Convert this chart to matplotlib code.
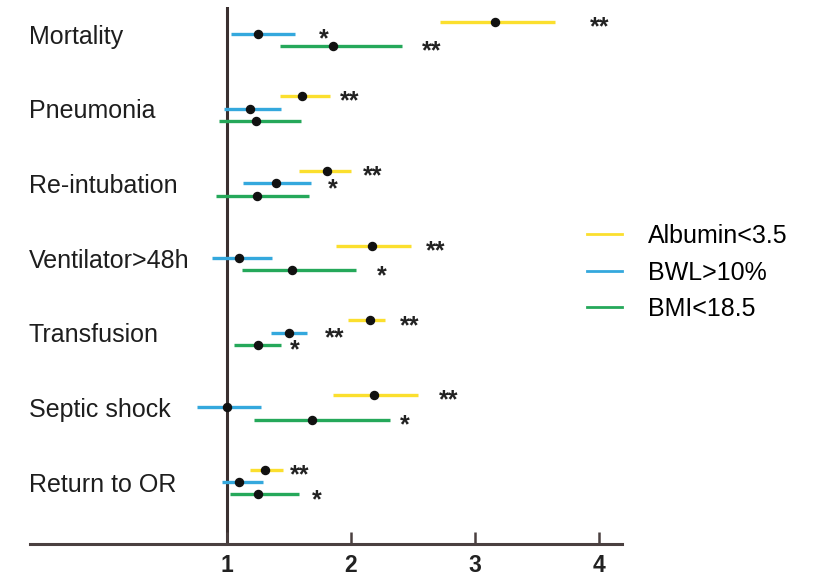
import numpy as np
import matplotlib
matplotlib.use("Agg")
from matplotlib import pyplot as plt
from matplotlib.lines import Line2D

plt.rcParams['font.family'] = ['Liberation Sans', 'DejaVu Sans']

# outcomes, top to bottom
outcomes = ["Mortality", "Pneumonia", "Re-intubation", "Ventilator>48h",
            "Transfusion", "Septic shock", "Return to OR"]

series = ["Albumin<3.5", "BWL>10%", "BMI<18.5"]
colores = ["#FBDF2E", "#34A8DD", "#25A85A"]

# odds ratio, lower CI, upper CI  (one list per series, same order as outcomes)
or_albumin = [3.16, 1.61, 1.81, 2.17, 2.155, 2.19, 1.31]
lo_albumin = [2.72, 1.43, 1.58, 1.88, 1.975, 1.855, 1.19]
hi_albumin = [3.65, 1.83, 2.00, 2.49, 2.28, 2.54, 1.455]

or_bwl = [1.25, 1.19, 1.395, 1.10, 1.50, 1.00, 1.10]
lo_bwl = [1.035, 0.98, 1.13, 0.884, 1.355, 0.758, 0.96]
hi_bwl = [1.55, 1.44, 1.68, 1.365, 1.65, 1.28, 1.295]

or_bmi = [1.855, 1.24, 1.245, 1.525, 1.25, 1.685, 1.25]
lo_bmi = [1.43, 0.94, 0.914, 1.12, 1.06, 1.22, 1.03]
hi_bmi = [2.41, 1.60, 1.66, 2.04, 1.44, 2.32, 1.58]

# significance marks and where they sit on the x axis
stars_albumin = ["**", "**", "**", "**", "**", "**", "**"]
starx_albumin = [3.93, 1.91, 2.10, 2.61, 2.40, 2.71, 1.51]
stars_bwl = ["*", "", "*", "", "**", "", ""]
starx_bwl = [1.74, 0, 1.815, 0, 1.79, 0, 0]
stars_bmi = ["**", "", "", "*", "*", "*", "*"]
starx_bmi = [2.57, 0, 0, 2.21, 1.51, 2.40, 1.69]

ors = [or_albumin, or_bwl, or_bmi]
los = [lo_albumin, lo_bwl, lo_bmi]
his = [hi_albumin, hi_bwl, hi_bmi]
stars = [stars_albumin, stars_bwl, stars_bmi]
starxs = [starx_albumin, starx_bwl, starx_bmi]

fig = plt.figure(figsize=(8.13, 5.76), dpi=100)
ax = fig.add_axes([30/813, 32/576, 591.7/813, 537/576])

n = len(outcomes)
centros = np.arange(n, 0, -1)
desplazamiento = [0.165, 0.0, -0.165]

for k in range(3):
    y = centros + desplazamiento[k]
    ax.hlines(y, los[k], his[k], color=colores[k], lw=2.4, zorder=2)
    ax.plot(ors[k], y, 'o', color="#111111", ms=5.8, zorder=3)
    for i in range(n):
        if stars[k][i]:
            ax.annotate(stars[k][i], (starxs[k][i], y[i]), xytext=(0, -4),
                        textcoords="offset points", ha="left", va="center",
                        fontsize=18, fontweight="bold", color="#222222",
                        annotation_clip=False)

for i in range(n):
    ax.annotate(outcomes[i], (-0.595, centros[i]), xytext=(0, -2),
                textcoords="offset points", ha="left", va="center",
                fontsize=18, color="#1e1e1e", annotation_clip=False)

ax.axvline(1, color="#3a3030", lw=2.2, zorder=1)

ax.set_xlim(-0.586, 4.185)
ax.set_ylim(0.17, 7.36)
ax.set_xticks([1, 2, 3, 4])
ax.set_yticks([])
for s in ["top", "right", "left"]:
    ax.spines[s].set_visible(False)
ax.spines["bottom"].set_linewidth(2.2)
ax.spines["bottom"].set_color("#4a4040")
ax.tick_params(axis="x", direction="in", length=9, width=1.8, color="#4a4040",
               pad=7, labelsize=16.5)
for t in ax.get_xticklabels():
    t.set_fontweight("bold")
    t.set_color("#222222")

handles = [Line2D([], [], color=c, lw=2.0) for c in colores]
ax.legend(handles, series, loc="upper left", bbox_to_anchor=(587/813, 1 - 224/576),
          bbox_transform=fig.transFigure, frameon=False, fontsize=18,
          handlelength=1.4, handletextpad=1.05, labelspacing=0.5,
          borderpad=0, borderaxespad=0)

plt.savefig("out.png", dpi=100)
